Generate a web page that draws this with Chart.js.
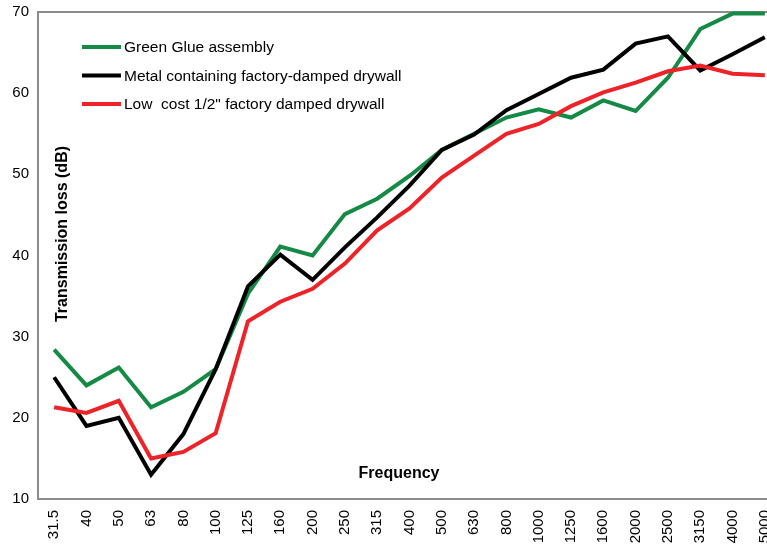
<!DOCTYPE html>
<html>
<head>
<meta charset="utf-8">
<script src="https://cdn.jsdelivr.net/npm/chart.js@4.4.1/dist/chart.umd.min.js"></script>
<style>
  html, body { margin: 0; padding: 0; background: #fff; overflow: hidden; }
  #wrap { width: 767px; height: 545px; overflow: hidden; }
  #box { width: 800px; height: 545px; }
</style>
</head>
<body>
<div id="wrap"><div id="box"><canvas id="tl-chart"></canvas></div></div>
<script>
const ctx = document.getElementById("tl-chart").getContext("2d");

// Data
const frequencies = ["31.5", "40", "50", "63", "80", "100", "125", "160", "200", "250", "315",
  "400", "500", "630", "800", "1000", "1250", "1600", "2000", "2500", "3150", "4000", "5000"];
const greenGlue = [28.4, 24.0, 26.2, 21.3, 23.2, 26.0, 35.3, 41.1, 40.0, 45.1, 47.0,
  49.8, 53.0, 55.0, 57.0, 58.0, 57.0, 59.1, 57.8, 61.9, 67.9, 69.8, 69.8];
const metalDrywall = [25.0, 19.0, 20.0, 13.0, 18.0, 26.0, 36.2, 40.1, 37.0, 41.0, 44.7,
  48.6, 53.0, 54.9, 57.9, 59.9, 61.9, 62.9, 66.1, 67.0, 62.8, 64.8, 66.9];
const lowCostDrywall = [21.3, 20.6, 22.1, 15.0, 15.8, 18.1, 31.9, 34.3, 35.9, 39.0, 43.1,
  45.8, 49.6, 52.3, 55.0, 56.2, 58.4, 60.1, 61.3, 62.7, 63.4, 62.4, 62.2];
const seriesNames = ["Green Glue assembly", "Metal containing factory-damped drywall",
  "Low  cost 1/2\" factory damped drywall"];
const yTicks = [10, 20, 30, 40, 50, 60, 70];

// Styles
const colors = ["#148a45", "#000000", "#ee2327"];
const fontFamily = "'Liberation Sans', Arial, sans-serif";
const frameColor = "#8c8c8c";

const frame = {
  id: "frame",
  beforeDatasetsDraw(chart) {
    const a = chart.chartArea;
    const c = chart.ctx;
    c.save();
    c.strokeStyle = frameColor;
    c.lineWidth = 2;
    c.strokeRect(a.left, a.top, a.right - a.left, a.bottom - a.top);
    c.restore();
  }
};

const innerText = {
  id: "innerText",
  afterDraw(chart) {
    const c = chart.ctx;
    c.save();
    // legend
    c.font = "15.5px " + fontFamily;
    c.textBaseline = "middle";
    c.textAlign = "left";
    chart.data.datasets.forEach((ds, i) => {
      const y = 47 + i * 28.5;
      c.strokeStyle = ds.borderColor;
      c.lineWidth = 4;
      c.beginPath();
      c.moveTo(82, y);
      c.lineTo(121, y);
      c.stroke();
      c.fillStyle = "#000";
      c.fillText(ds.label, 124, y + 1);
    });
    // axis titles
    c.font = "bold 16px " + fontFamily;
    c.textAlign = "center";
    c.fillText("Frequency", 399, 474);
    c.translate(63, 234);
    c.rotate(-Math.PI / 2);
    c.fillText("Transmission loss (dB)", 0, 0);
    c.restore();
  }
};

const data = {
  labels: frequencies,
  datasets: [
    { label: seriesNames[0], data: greenGlue, borderColor: colors[0], order: 3 },
    { label: seriesNames[1], data: metalDrywall, borderColor: colors[1], order: 2 },
    { label: seriesNames[2], data: lowCostDrywall, borderColor: colors[2], order: 1 },
  ].map(d => Object.assign(d, {
    borderWidth: 4, pointRadius: 0, tension: 0, fill: false, clip: 6,
    borderJoinStyle: "miter", backgroundColor: d.borderColor
  })),
};

const options = {
  responsive: true,
  maintainAspectRatio: false,
  animation: false,
  layout: { padding: { top: 12, right: 19, left: 0, bottom: 0 } },
  plugins: {
    legend: { display: false },
    tooltip: { enabled: false },
  },
  scales: {
    x: {
      offset: true,
      grid: { display: false, drawTicks: false },
      border: { display: false },
      ticks: {
        color: "#000",
        font: { family: fontFamily, size: 15 },
        minRotation: 90,
        maxRotation: 90,
        autoSkip: false,
        padding: 11,
      },
      afterFit(scale) {
        scale.height = 46;
        scale.paddingLeft = 0;
        scale.paddingRight = 0;
      },
    },
    y: {
      min: 10,
      max: 70,
      afterBuildTicks(scale) { scale.ticks = yTicks.map(v => ({ value: v })); },
      grid: { display: false, drawTicks: false },
      border: { display: false },
      ticks: {
        color: "#000",
        font: { family: fontFamily, size: 15 },
        padding: 9,
      },
      afterFit(scale) {
        scale.width = 38;
        scale.paddingTop = 0;
        scale.paddingBottom = 0;
      },
    },
  },
};

new Chart(ctx, { type: "line", data: data, options: options, plugins: [frame, innerText] });
</script>
</body>
</html>
